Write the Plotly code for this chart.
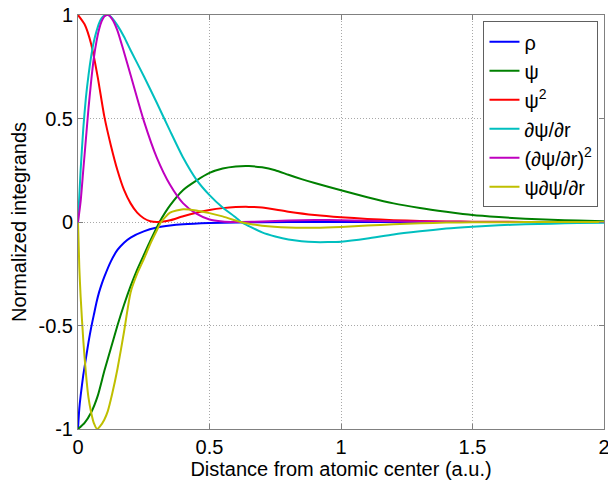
import plotly.graph_objects as go

# ---- data ----
r_rho = [0, 0.005, 0.01, 0.02, 0.03, 0.04, 0.05, 0.06, 0.07, 0.08, 0.09, 0.1, 0.125, 0.15, 0.175, 0.2, 0.25, 0.3, 0.35, 0.4, 0.5, 0.6, 0.8, 1.0, 1.5, 2.0]
rho = [-1, -0.9, -0.84, -0.74, -0.66, -0.58, -0.51, -0.45, -0.39, -0.34, -0.3, -0.265, -0.19, -0.135, -0.1, -0.075, -0.045, -0.027, -0.017, -0.011, -0.005, -0.002, -0.0005, 0, 0, 0]

r_psi = [0, 0.025, 0.05, 0.075, 0.1, 0.125, 0.15, 0.175, 0.2, 0.225, 0.25, 0.275, 0.3, 0.31, 0.35, 0.4, 0.45, 0.5, 0.55, 0.6, 0.65, 0.7, 0.75, 0.8, 0.85, 0.9, 1.0, 1.1, 1.2, 1.3, 1.4, 1.5, 1.6, 1.7, 1.8, 1.9, 2.0]
psi = [-1, -0.97, -0.92, -0.84, -0.72, -0.61, -0.5, -0.4, -0.31, -0.23, -0.16, -0.09, -0.025, 0, 0.08, 0.155, 0.2, 0.237, 0.258, 0.268, 0.27, 0.264, 0.25, 0.228, 0.207, 0.188, 0.153, 0.12, 0.09, 0.068, 0.05, 0.034, 0.024, 0.016, 0.011, 0.007, 0.004]

r_psi2 = [0, 0.025, 0.05, 0.075, 0.1, 0.125, 0.15, 0.175, 0.2, 0.225, 0.25, 0.275, 0.3, 0.325, 0.35, 0.4, 0.45, 0.5, 0.55, 0.6, 0.65, 0.7, 0.8, 0.9, 1.0, 1.1, 1.2, 1.3, 1.4, 1.5, 1.7, 2.0]
psi2 = [1, 0.955, 0.86, 0.70, 0.51, 0.37, 0.25, 0.155, 0.09, 0.045, 0.018, 0.004, 0.0, 0.002, 0.008, 0.028, 0.045, 0.058, 0.067, 0.072, 0.073, 0.07, 0.05, 0.034, 0.023, 0.015, 0.009, 0.005, 0.003, 0.0015, 0.0005, 0]

r_dpsi = [0, 0.01, 0.02, 0.03, 0.04, 0.05, 0.06, 0.07, 0.08, 0.09, 0.1, 0.115, 0.13, 0.15, 0.175, 0.2, 0.25, 0.3, 0.35, 0.4, 0.45, 0.5, 0.55, 0.6, 0.62, 0.65, 0.7, 0.75, 0.8, 0.85, 0.9, 0.95, 1.0, 1.1, 1.2, 1.3, 1.4, 1.5, 1.6, 1.7, 1.8, 1.9, 2.0]
dpsi = [0, 0.25, 0.45, 0.6, 0.71, 0.8, 0.87, 0.92, 0.96, 0.985, 0.997, 1.0, 0.985, 0.95, 0.895, 0.83, 0.705, 0.575, 0.44, 0.31, 0.205, 0.13, 0.07, 0.022, 0, -0.02, -0.05, -0.07, -0.085, -0.093, -0.097, -0.097, -0.095, -0.08, -0.06, -0.045, -0.032, -0.023, -0.016, -0.011, -0.008, -0.005, -0.004]

r_dpsi2 = [0, 0.01, 0.02, 0.03, 0.04, 0.05, 0.06, 0.07, 0.08, 0.09, 0.1, 0.115, 0.13, 0.15, 0.175, 0.2, 0.25, 0.3, 0.35, 0.4, 0.45, 0.5, 0.55, 0.6, 0.62, 0.7, 0.8, 0.9, 1.0, 1.1, 1.2, 1.3, 1.4, 1.5, 1.7, 2.0]
dpsi2 = [0, 0.1, 0.25, 0.4, 0.55, 0.68, 0.79, 0.87, 0.93, 0.97, 0.993, 1.0, 0.98, 0.925, 0.82, 0.71, 0.49, 0.31, 0.18, 0.09, 0.04, 0.012, 0.003, 0.0003, 0, 0.0025, 0.007, 0.0094, 0.009, 0.0064, 0.0036, 0.002, 0.001, 0.0005, 0.0001, 0]

r_psidpsi = [0, 0.005, 0.01, 0.02, 0.03, 0.04, 0.05, 0.06, 0.073, 0.085, 0.1, 0.113, 0.13, 0.15, 0.175, 0.2, 0.225, 0.25, 0.275, 0.3, 0.316, 0.35, 0.4, 0.45, 0.5, 0.55, 0.6, 0.618, 0.65, 0.7, 0.8, 0.9, 1.0, 1.1, 1.2, 1.3, 1.4, 1.5, 1.7, 2.0]
psidpsi = [0, -0.22, -0.36, -0.57, -0.73, -0.85, -0.92, -0.97, -1.0, -0.985, -0.955, -0.915, -0.83, -0.71, -0.53, -0.34, -0.25, -0.18, -0.105, -0.04, 0, 0.045, 0.062, 0.056, 0.043, 0.027, 0.007, 0, -0.008, -0.018, -0.027, -0.028, -0.024, -0.017, -0.011, -0.006, -0.003, -0.0015, -0.0005, 0]

names = ["ρ", "ψ", "ψ<sup>2</sup>", "∂ψ/∂r", "(∂ψ/∂r)<sup>2</sup>", "ψ∂ψ/∂r"]
colors = ["#0000ff", "#008000", "#ff0000", "#00bfbf", "#bf00bf", "#bfbf00"]
series = [(r_rho, rho), (r_psi, psi), (r_psi2, psi2), (r_dpsi, dpsi), (r_dpsi2, dpsi2), (r_psidpsi, psidpsi)]

x_ticks = [0, 0.5, 1, 1.5, 2]
y_ticks = [-1, -0.5, 0, 0.5, 1]

FONT = "Liberation Sans, Arial, sans-serif"
FS = 20

fig = go.Figure()
for (xs, ys), nm, c in zip(series, names, colors):
    fig.add_trace(go.Scatter(x=xs, y=ys, name=nm, mode="lines",
                             line=dict(color=c, width=2, shape="spline", smoothing=0.6)))

axis_common = dict(
    showline=True, linecolor="#808080", linewidth=1, mirror="ticks",
    ticks="inside", ticklen=5, tickcolor="#808080",
    showgrid=True, gridcolor="#a8a8a8", griddash="1px,2px", gridwidth=1,
    zeroline=False, tickfont=dict(family=FONT, size=FS, color="#000"),
    ticklabeloverflow="allow",
)

fig.update_xaxes(range=[0, 2], tickvals=x_ticks, ticktext=[str(v) for v in x_ticks],
                 title=dict(text="Distance from atomic center (a.u.)", font=dict(family=FONT, size=FS, color="#000"), standoff=0),
                 **axis_common)
fig.update_yaxes(range=[-1, 1], tickvals=y_ticks, ticktext=[str(v) for v in y_ticks],
                 title=dict(text="Normalized integrands", font=dict(family=FONT, size=FS, color="#000"), standoff=6),
                 **axis_common)

fig.update_layout(
    width=608, height=483,
    margin=dict(l=78, r=4, t=15, b=54, autoexpand=False),
    paper_bgcolor="white", plot_bgcolor="white",
    font=dict(family=FONT, size=FS, color="#000"),
    legend=dict(x=0.9895, y=0.985, xanchor="right", yanchor="top",
                bgcolor="white", bordercolor="#606060", borderwidth=1,
                font=dict(family=FONT, size=FS, color="#000"),
                tracegroupgap=0),
    showlegend=True,
)

fig.write_html("out.html")
